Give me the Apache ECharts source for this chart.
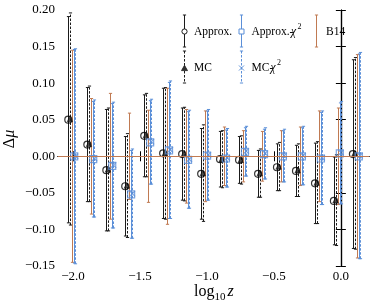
<!DOCTYPE html>
<html><head><meta charset="utf-8">
<script src="https://cdn.jsdelivr.net/npm/echarts@6/dist/echarts.min.js"></script>
<style>html,body{margin:0;padding:0;background:#fff}#c{width:374px;height:305px}</style>
</head><body><div id="c"></div>
<script>
// log10 z of each redshift bin (position of the B14 bar)
const logz = [-2.008, -1.866, -1.724, -1.583, -1.441, -1.300, -1.158, -1.016, -0.875, -0.733, -0.591, -0.450, -0.308, -0.166, -0.025, 0.117];
// Approx.
const approxVal = [0.050, 0.016, -0.019, -0.041, 0.028, 0.004, 0.003, -0.024, -0.004, -0.005, -0.024, -0.015, -0.020, -0.037, -0.061, 0.003];
const approxErr = [0.141, 0.078, 0.083, 0.068, 0.056, 0.089, 0.063, 0.062, 0.038, 0.032, 0.032, 0.032, 0.035, 0.055, 0.060, 0.129];
// MC
const mcVal = [0.051, 0.017, -0.018, -0.040, 0.029, 0.004, 0.003, -0.023, -0.004, -0.005, -0.023, -0.014, -0.019, -0.036, -0.060, 0.004];
const mcErr = [0.145, 0.079, 0.084, 0.071, 0.057, 0.090, 0.064, 0.066, 0.039, 0.033, 0.033, 0.033, 0.036, 0.056, 0.062, 0.131];
// Approx.-chi2
const chiVal = [0.000, -0.004, -0.013, -0.052, 0.019, 0.008, -0.005, 0.001, -0.003, 0.006, 0.003, 0.000, 0.000, -0.003, 0.004, 0.000];
const chiErr = [0.146, 0.079, 0.085, 0.060, 0.057, 0.093, 0.066, 0.061, 0.039, 0.033, 0.034, 0.035, 0.039, 0.063, 0.069, 0.140];
// MC-chi2
const mcChiVal = [0.000, -0.003, -0.012, -0.051, 0.020, 0.009, -0.004, 0.002, -0.002, 0.007, 0.004, 0.001, 0.001, -0.002, 0.005, 0.001];
const mcChiErr = [0.147, 0.080, 0.086, 0.061, 0.058, 0.094, 0.067, 0.062, 0.040, 0.034, 0.035, 0.036, 0.040, 0.064, 0.070, 0.141];
// B14
const b14Val = [0, 0, 0, 0, 0, 0, 0, 0, 0, 0, 0, 0, 0, 0, 0, 0];
const b14Err = [0.145, 0.079, 0.086, 0.059, 0.063, 0.093, 0.064, 0.062, 0.040, 0.035, 0.034, 0.035, 0.040, 0.062, 0.066, 0.139];
// ticks
const xTicks = [-2.0, -1.5, -1.0, -0.5, 0.0];
const yMin = -0.15, yMax = 0.20, yStep = 0.05;
const xMin = -2.112, xMax = 0.21;

const BLACK = '#1a1a1a', BLUE = '#5b8fd8', BROWN = '#c07a52';
const SERIF = 'Liberation Serif';
const OFF = {approx: -0.027, mc: -0.015, b14: 0, chi: 0.017, mcchi: 0.026};
const DASH = [2.5, 1.5];

function ebData(vals, errs, off) {
  return logz.map((x, i) => [x + off, vals[i] - errs[i], vals[i] + errs[i]]);
}
function ptData(vals, off) {
  return logz.map((x, i) => [x + off, vals[i]]);
}
function errRender(color, dashed) {
  return function (params, api) {
    const x = api.value(0), lo = api.value(1), hi = api.value(2);
    const p1 = api.coord([x, lo]), p2 = api.coord([x, hi]);
    const px = Math.round(p1[0]) + 0.5;
    const cw = 1.6;
    return {
      type: 'group', children: [
        {type: 'line', shape: {x1: px, y1: p1[1], x2: px, y2: p2[1]},
         style: {stroke: color, lineWidth: 1, lineDash: dashed ? DASH : null}},
        {type: 'line', shape: {x1: px - cw, y1: p1[1], x2: px + cw, y2: p1[1]}, style: {stroke: color, lineWidth: 1}},
        {type: 'line', shape: {x1: px - cw, y1: p2[1], x2: px + cw, y2: p2[1]}, style: {stroke: color, lineWidth: 1}}
      ]
    };
  };
}
function ebSeries(vals, errs, off, color, dashed) {
  return {type: 'custom', renderItem: errRender(color, dashed), data: ebData(vals, errs, off),
          encode: {x: 0, y: [1, 2]}, silent: true, clip: false};
}
const fmtY = v => (v < -1e-9 ? '\u2212' : '') + Math.abs(v).toFixed(2);
const fmtX = v => (v < -1e-9 ? '\u2212' : '') + Math.abs(v).toFixed(1);

const chart = echarts.init(document.getElementById('c'), null, {renderer: 'canvas'});
const tickStyle = {show: true, inside: true, length: 5, lineStyle: {color: '#000', width: 1}};
const lineStyle = {show: true, lineStyle: {color: '#000', width: 1.2}};

// legend glyphs (drawn as graphics)
function vbar(x, y1, y2, color, dashed) {
  return [
    {type: 'line', shape: {x1: x, y1: y1, x2: x, y2: y2}, style: {stroke: color, lineWidth: 1, lineDash: dashed ? DASH : null}},
    {type: 'line', shape: {x1: x - 1.6, y1: y1, x2: x + 1.6, y2: y1}, style: {stroke: color, lineWidth: 1}},
    {type: 'line', shape: {x1: x - 1.6, y1: y2, x2: x + 1.6, y2: y2}, style: {stroke: color, lineWidth: 1}}
  ];
}
function txt(x, y, parts, size) {
  return {type: 'text', x: x, y: y, style: {text: parts, font: (size || 11.5) + 'px "' + SERIF + '"', fill: '#000', verticalAlign: 'middle'}};
}
const graphics = [].concat(
  vbar(184.5, 15, 47, BLACK, false),
  [{type: 'circle', shape: {cx: 184.5, cy: 31.5, r: 2.6}, style: {fill: '#fff', stroke: BLACK, lineWidth: 1}}],
  [txt(194, 32, 'Approx.')],
  vbar(184.5, 51, 83, BLACK, true),
  [{type: 'polygon', shape: {points: [[184.5, 65.3], [187.5, 70.6], [181.5, 70.6]]}, style: {fill: '#333', stroke: BLACK, lineWidth: 0.8}}],
  [txt(194, 68, 'MC')],
  vbar(241.5, 15, 47, BLUE, false),
  [{type: 'rect', shape: {x: 239, y: 29, width: 5, height: 5}, style: {fill: '#fff', stroke: BLUE, lineWidth: 1}}],
  [txt(251.5, 32, 'Approx.-'), {type: 'text', x: 291, y: 32, style: {text: '\u03c7', font: 'italic 11.5px "' + SERIF + '"', fill: '#000', verticalAlign: 'middle'}},
   {type: 'text', x: 297.5, y: 27, style: {text: '2', font: '8px "' + SERIF + '"', fill: '#000', verticalAlign: 'middle'}}],
  vbar(241.5, 51, 83, BLUE, true),
  [{type: 'polyline', shape: {points: [[239, 65.5], [244, 70.5]]}, style: {stroke: BLUE, lineWidth: 1}},
   {type: 'polyline', shape: {points: [[244, 65.5], [239, 70.5]]}, style: {stroke: BLUE, lineWidth: 1}}],
  [txt(251.5, 68, 'MC-'), {type: 'text', x: 270.5, y: 68, style: {text: '\u03c7', font: 'italic 11.5px "' + SERIF + '"', fill: '#000', verticalAlign: 'middle'}},
   {type: 'text', x: 277, y: 63, style: {text: '2', font: '8px "' + SERIF + '"', fill: '#000', verticalAlign: 'middle'}}],
  vbar(316.5, 15, 47, BROWN, false),
  [txt(326, 32, 'B14')],
  // axis titles
  [{type: 'text', x: 194, y: 292, style: {text: 'log', font: '16px "' + SERIF + '"', fill: '#000', verticalAlign: 'middle'}},
   {type: 'text', x: 214.5, y: 297, style: {text: '10', font: '11px "' + SERIF + '"', fill: '#000', verticalAlign: 'middle'}},
   {type: 'text', x: 227.5, y: 292, style: {text: 'z', font: 'italic 16px "' + SERIF + '"', fill: '#000', verticalAlign: 'middle'}},
   {type: 'text', x: 10, y: 139, rotation: Math.PI / 2,
    style: {text: '{a|\u0394}{b|\u03bc}', align: 'center', verticalAlign: 'middle',
            rich: {a: {font: '16px "' + SERIF + '"', fill: '#000'}, b: {font: 'italic 16px "' + SERIF + '"', fill: '#000'}}}}]
);

chart.setOption({
  animation: false,
  backgroundColor: '#fff',
  grid: {left: 58, right: 5, top: 10, bottom: 39, containLabel: false},
  xAxis: [
    {type: 'value', position: 'bottom', min: xMin, max: xMax, splitLine: {show: false},
     axisLine: lineStyle, axisTick: Object.assign({customValues: xTicks}, tickStyle),
     axisLabel: {customValues: xTicks, formatter: fmtX, fontFamily: SERIF, fontSize: 13, color: '#000', margin: 4}},
    {type: 'value', position: 'top', min: xMin, max: xMax, splitLine: {show: false},
     axisLine: lineStyle, axisTick: Object.assign({customValues: xTicks}, tickStyle), axisLabel: {show: false}}
  ],
  yAxis: [
    {type: 'value', position: 'left', min: yMin, max: yMax, interval: yStep, splitLine: {show: false},
     axisLine: lineStyle, axisTick: tickStyle,
     axisLabel: {formatter: fmtY, fontFamily: SERIF, fontSize: 13, color: '#000', margin: 3}},
    {type: 'value', position: 'right', min: yMin, max: yMax, interval: yStep, splitLine: {show: false},
     axisLine: lineStyle, axisTick: tickStyle, axisLabel: {show: false}}
  ],
  graphic: graphics,
  series: [
    {type: 'scatter', data: [], silent: true,
     markLine: {silent: true, symbol: 'none', label: {show: false}, lineStyle: {color: BROWN, width: 1.2, type: 'solid'}, data: [{yAxis: 0}]}},
    ebSeries(approxVal, approxErr, OFF.approx, BLACK, false),
    ebSeries(mcVal, mcErr, OFF.mc, BLACK, true),
    ebSeries(b14Val, b14Err, OFF.b14, BROWN, false),
    ebSeries(chiVal, chiErr, OFF.chi, BLUE, false),
    ebSeries(mcChiVal, mcChiErr, OFF.mcchi, BLUE, true),
    {type: 'scatter', data: ptData(approxVal, OFF.approx), symbol: 'circle', symbolSize: 7, silent: true,
     itemStyle: {color: 'rgba(255,255,255,0)', borderColor: '#000', borderWidth: 1.2}},
    {type: 'scatter', data: ptData(mcVal, OFF.mc), symbol: 'triangle', symbolSize: 5.5, silent: true,
     itemStyle: {color: '#222', borderColor: '#000', borderWidth: 0.6}},
    {type: 'scatter', data: ptData(chiVal, OFF.chi), symbol: 'rect', symbolSize: 7, silent: true,
     itemStyle: {color: 'rgba(255,255,255,0)', borderColor: BLUE, borderWidth: 1.2}},
    {type: 'scatter', data: ptData(mcChiVal, OFF.mcchi), symbol: 'path://M0,0L10,10M10,0L0,10', symbolSize: 5.5, silent: true,
     itemStyle: {color: 'none', borderColor: BLUE, borderWidth: 1.2}}
  ]
});
</script></body></html>
